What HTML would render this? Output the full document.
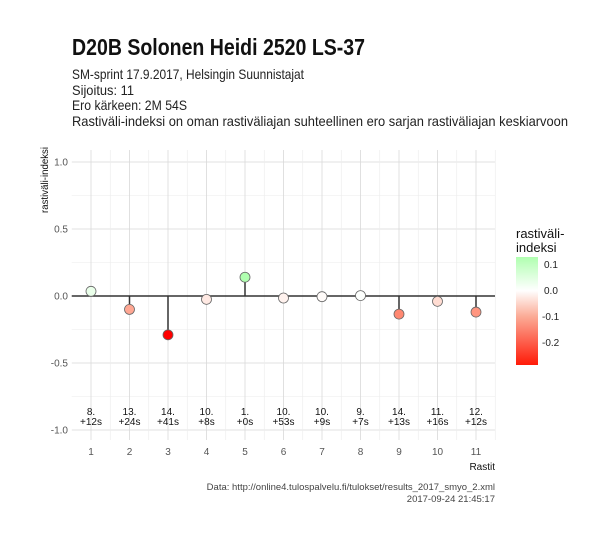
<!DOCTYPE html>
<html><head><meta charset="utf-8"><style>
body{margin:0;background:#fff;}
svg{display:block;font-family:"Liberation Sans",sans-serif;}
</style></head><body>
<svg id="chart" width="607" height="540" viewBox="0 0 607 540">
<defs><linearGradient id="lg" x1="0" y1="0" x2="0" y2="1">
<stop offset="0" stop-color="#b0ffb0"/><stop offset="0.31" stop-color="#ffffff"/><stop offset="0.55" stop-color="#fbab96"/><stop offset="1" stop-color="#ff1a08"/>
</linearGradient></defs>
<text x="72" y="55" font-size="23" font-weight="bold" fill="#111" textLength="293" lengthAdjust="spacingAndGlyphs">D20B Solonen Heidi 2520 LS-37</text>
<g font-size="14" fill="#222">
<text x="72" y="79" textLength="232" lengthAdjust="spacingAndGlyphs">SM-sprint 17.9.2017, Helsingin Suunnistajat</text>
<text x="72" y="95" textLength="62" lengthAdjust="spacingAndGlyphs">Sijoitus: 11</text>
<text x="72" y="110" textLength="115" lengthAdjust="spacingAndGlyphs">Ero kärkeen: 2M 54S</text>
<text x="72" y="126" textLength="496" lengthAdjust="spacingAndGlyphs">Rastiväli-indeksi on oman rastiväliajan suhteellinen ero sarjan rastiväliajan keskiarvoon</text>
</g>
<g id="grid"></g>
<g id="marks"></g>
<g id="labels" font-size="10" fill="#111" text-anchor="middle"></g>
<g id="axes" font-size="10" fill="#555"></g>
<text transform="translate(48,180) rotate(-90)" font-size="10" fill="#111" text-anchor="middle" textLength="66" lengthAdjust="spacingAndGlyphs">rastiväli-indeksi</text>
<text x="495" y="470" font-size="10" fill="#111" text-anchor="end">Rastit</text>
<g>
<text x="516" y="238" font-size="13" fill="#111">rastiväli-</text>
<text x="516" y="252" font-size="13" fill="#111">indeksi</text>
<rect x="516" y="257" width="22" height="108" fill="url(#lg)"/>
<g font-size="10" fill="#222">
<text x="544" y="268">0.1</text><text x="544" y="294">0.0</text><text x="542" y="320">-0.1</text><text x="542" y="346">-0.2</text>
</g></g>
<g font-size="9.5" fill="#444" text-anchor="end">
<text x="495" y="490">Data: http://online4.tulospalvelu.fi/tulokset/results_2017_smyo_2.xml</text>
<text x="495" y="502">2017-09-24 21:45:17</text>
</g>
</svg>
<script>
const categories=[1,2,3,4,5,6,7,8,9,10,11];
const values=[0.035,-0.10,-0.29,-0.025,0.14,-0.015,-0.005,0.003,-0.135,-0.04,-0.12];
const ranks=["8.","13.","14.","10.","1.","10.","10.","9.","14.","11.","12."];
const gaps=["+12s","+24s","+41s","+8s","+0s","+53s","+9s","+7s","+13s","+16s","+12s"];
const yTicks=[1.0,0.5,0.0,-0.5,-1.0];
const NS="http://www.w3.org/2000/svg";
const L=71.75,R=495,T=150,B=440;
const x=v=>91+(v-1)*38.5;
const y=v=>296-v*134;
function mk(tag,attrs,parent){const e=document.createElementNS(NS,tag);for(const k in attrs)e.setAttribute(k,attrs[k]);parent.appendChild(e);return e;}
const grid=document.getElementById('grid'),marks=document.getElementById('marks'),labels=document.getElementById('labels'),axes=document.getElementById('axes');
for(let i=0;i<yTicks.length-1;i++){const m=(yTicks[i]+yTicks[i+1])/2;mk('line',{x1:L,x2:R,y1:y(m),y2:y(m),stroke:'#ececec','stroke-width':0.6},grid);}
yTicks.forEach(t=>{mk('line',{x1:L,x2:R,y1:y(t),y2:y(t),stroke:'#d9d9d9','stroke-width':0.8},grid);
const tx=mk('text',{x:68,y:y(t)+3.5,'text-anchor':'end'},axes);tx.textContent=t.toFixed(1);

});
categories.forEach((c,i)=>{mk('line',{x1:x(c)+19.25,x2:x(c)+19.25,y1:T,y2:B,stroke:'#ececec','stroke-width':0.6},grid);
mk('line',{x1:x(c),x2:x(c),y1:T,y2:B,stroke:'#d9d9d9','stroke-width':0.8},grid);
const tx=mk('text',{x:x(c),y:455,'text-anchor':'middle'},axes);tx.textContent=c;

});
mk('line',{x1:L,x2:R,y1:y(0),y2:y(0),stroke:'#333','stroke-width':1.5},marks);
function col(v){if(v>=0){const f=Math.min(v/0.13,1);return `rgb(${Math.round(255-f*79)},255,${Math.round(255-f*79)})`;}
const f=Math.min(-v/0.29,1);return `rgb(255,${Math.round(255*(1-f))},${Math.round(255*Math.pow(1-f,1.3))})`;}
categories.forEach((c,i)=>{const v=values[i];
const st=mk('line',{x1:x(c),x2:x(c),y1:y(0),y2:y(v),stroke:'#333','stroke-width':1.5},marks);


const p=mk('circle',{cx:x(c),cy:y(v),r:5,fill:col(v),stroke:'#666','stroke-width':0.8},marks);


const a=mk('text',{x:x(c),y:415},labels);a.textContent=ranks[i];


const b=mk('text',{x:x(c),y:425},labels);b.textContent=gaps[i];

});
</script>
</body></html>
